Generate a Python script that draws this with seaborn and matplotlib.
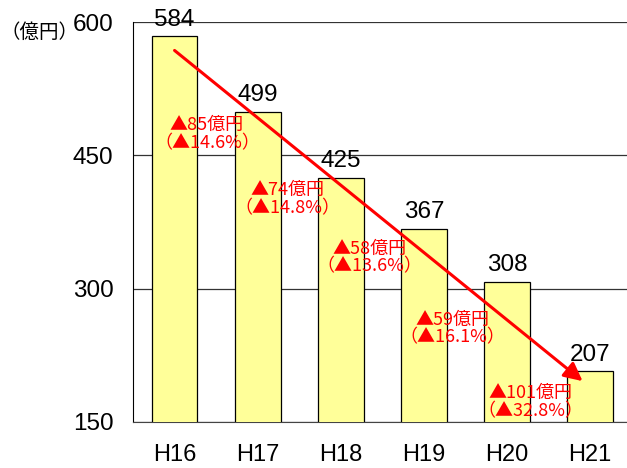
import pandas as pd
import seaborn as sns
import matplotlib.pyplot as plt
from matplotlib.ticker import FixedLocator

# data
years = ["H16", "H17", "H18", "H19", "H20", "H21"]
amounts = [584, 499, 425, 367, 308, 207]
drop_amounts = ["85", "74", "58", "59", "101"]
drop_rates = ["14.6", "14.8", "13.6", "16.1", "32.8"]
note_x = [0.39, 1.36, 2.35, 3.34, 4.28]
note_y = [474, 401, 335, 255, 172]

df = pd.DataFrame({"year": years, "amount": amounts})

sns.set_style("white", {"text.color": "black", "xtick.color": "black",
                        "ytick.color": "black"})
plt.rcParams["font.family"] = ["Liberation Sans", "Noto Sans CJK JP", "DejaVu Sans"]

fig = plt.figure(figsize=(6.27, 4.68), dpi=100)
ax = fig.add_axes([133 / 627, 1 - 422 / 468, 498.6 / 627, 400 / 468])

sns.barplot(data=df, x="year", y="amount", color="#FFFF99", saturation=1,
            width=0.55, edgecolor="black", linewidth=0.9, ax=ax, zorder=3)

ax.set_ylim(150, 600)
ax.set_xlim(-0.5, 5.5)
ax.set_yticks([150, 300, 450, 600])
ax.yaxis.grid(True, color="#333333", linewidth=0.9, zorder=0)
ax.set_axisbelow(True)
for side in ["top", "right"]:
    ax.spines[side].set_visible(False)
ax.spines["left"].set_color("black")
ax.spines["bottom"].set_color("#444444")
ax.set_xlabel("")
ax.set_ylabel("")

ax.tick_params(axis="y", labelsize=17.5, length=0, pad=14, labelcolor="black")
ax.tick_params(axis="x", labelsize=17, length=0, pad=16, labelcolor="black")
ax.xaxis.set_minor_locator(FixedLocator([0.5, 1.5, 2.5, 3.5, 4.5]))
ax.tick_params(axis="x", which="minor", direction="in", length=8, color="#444444")

# values above bars
for i, v in enumerate(amounts):
    ax.text(i, v + 12, str(v), ha="center", va="baseline", fontsize=17.5,
            color="black", zorder=5)

# decrease notes
for x, y, a, r in zip(note_x, note_y, drop_amounts, drop_rates):
    ax.text(x, y, "▲" + a + "億円\n（▲" + r + "%）", ha="center", va="center",
            color="red", fontsize=13, linespacing=1.0, zorder=6,
            family=["Noto Sans CJK JP"])

# trend arrow
ax.annotate("", xy=(4.91, 196), xytext=(0.0, 568),
            arrowprops=dict(arrowstyle="-|>,head_length=1.1,head_width=0.55",
                            color="red", lw=2.2, shrinkA=0, shrinkB=0), zorder=7)

fig.text(0, 1 - 32 / 468, "（億円）", fontsize=14, ha="left", va="center",
         color="black", family=["Noto Sans CJK JP"])

plt.savefig("out.png", dpi=100)
